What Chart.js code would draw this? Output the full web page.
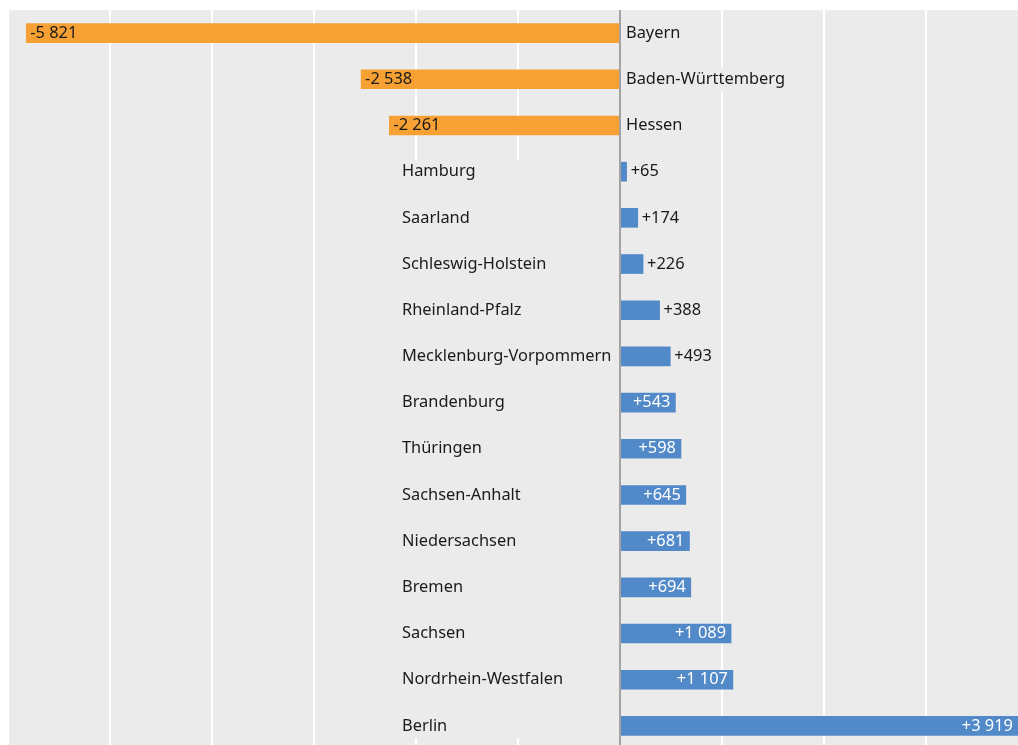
<!DOCTYPE html>
<html><head><meta charset="utf-8">
<script src="https://cdn.jsdelivr.net/npm/chart.js@4/dist/chart.umd.min.js"></script>
<style>html,body{margin:0;padding:0;background:#fff;overflow:hidden;width:1018px;height:745px}canvas{display:block}</style>
</head><body><canvas id="c" width="1030" height="752" style="width:1030px;height:752px"></canvas>
<script>
const states = ["Bayern","Baden-Württemberg","Hessen","Hamburg","Saarland","Schleswig-Holstein","Rheinland-Pfalz","Mecklenburg-Vorpommern","Brandenburg","Thüringen","Sachsen-Anhalt","Niedersachsen","Bremen","Sachsen","Nordrhein-Westfalen","Berlin"];
const values = [-5821,-2538,-2261,65,174,226,388,493,543,598,645,681,694,1089,1107,3919];
const xMin = -6000, xMax = 4000, xStep = 1000;

const FONT = '16.4px "Noto Sans"';
const NEG_COLOR = '#f7a034', POS_COLOR = '#5289c8', BG = '#ebebeb';
const INSIDE_MIN = 500;
const NAME_X = 402;

function fmt(v){
  const s = Math.abs(v).toString().replace(/\B(?=(\d{3})+(?!\d))/g,' ');
  return (v<0?'-':'+') + s;
}

const bgPlugin = {
  id:'bg',
  beforeDraw(chart){
    const {ctx, chartArea:a} = chart;
    ctx.save(); ctx.fillStyle = BG; ctx.fillRect(a.left, a.top, a.right-a.left, a.bottom-a.top); ctx.restore();
  },
  afterDatasetsDraw(chart){
    const {ctx, chartArea:a} = chart;
    const xs = chart.scales.x;
    const x0 = xs.getPixelForValue(0);
    const meta = chart.getDatasetMeta(0);
    ctx.save();
    ctx.font = FONT;
    ctx.textBaseline = 'middle';
    const posIdx = values.map((v,i)=>i).filter(i=>values[i]>=0);
    let maxW = 0; posIdx.forEach(i=>{maxW=Math.max(maxW, ctx.measureText(states[i]).width);});
    const yFirst = meta.data[posIdx[0]].y, yLast = meta.data[posIdx[posIdx.length-1]].y;
    ctx.fillStyle = BG;
    ctx.fillRect(NAME_X-6, yFirst-11, maxW+10, yLast-yFirst+23);
    ctx.strokeStyle = '#a3a3a3'; ctx.lineWidth = 2;
    ctx.beginPath(); ctx.moveTo(x0, a.top); ctx.lineTo(x0, a.bottom); ctx.stroke();
    values.forEach((v,i)=>{
      const bar = meta.data[i];
      const y = bar.y;
      if (v < 0){
        const w = ctx.measureText(states[i]).width;
        ctx.fillStyle = BG; ctx.fillRect(x0+4, y-11, w+4, 23);
        ctx.fillStyle = '#1a1a1a'; ctx.textAlign='left';
        ctx.fillText(states[i], x0+6, y);
        ctx.fillText(fmt(v), bar.x+4, y);
      } else {
        ctx.fillStyle = '#1a1a1a'; ctx.textAlign='left';
        ctx.fillText(states[i], NAME_X, y);
        if (v >= INSIDE_MIN){
          ctx.fillStyle = '#ffffff'; ctx.textAlign='right';
          ctx.fillText(fmt(v), Math.min(bar.x, 1018) - 5, y);
        } else {
          ctx.fillStyle = '#1a1a1a'; ctx.textAlign='left';
          ctx.fillText(fmt(v), bar.x+4, y);
        }
      }
    });
    ctx.restore();
  }
};

new Chart(document.getElementById('c'), {
  type:'bar',
  data:{ labels: states, datasets:[{ data: values, backgroundColor: values.map(v=>v<0?NEG_COLOR:POS_COLOR), barThickness:19, borderWidth:0 }]},
  options:{
    indexAxis:'y', responsive:false, animation:false, devicePixelRatio:1,
    layout:{padding:{left:8, top:10, right:2, bottom:3}},
    plugins:{legend:{display:false}, tooltip:{enabled:false}},
    scales:{
      x:{ type:'linear', min:xMin, max:xMax, display:true,
          ticks:{display:false, stepSize:xStep},
          grid:{ color:(c)=> c.tick && c.tick.value===0 ? 'rgba(0,0,0,0)' : '#ffffff', lineWidth:2, drawTicks:false },
          border:{display:false} },
      y:{ display:false }
    }
  },
  plugins:[bgPlugin]
});
</script></body></html>
